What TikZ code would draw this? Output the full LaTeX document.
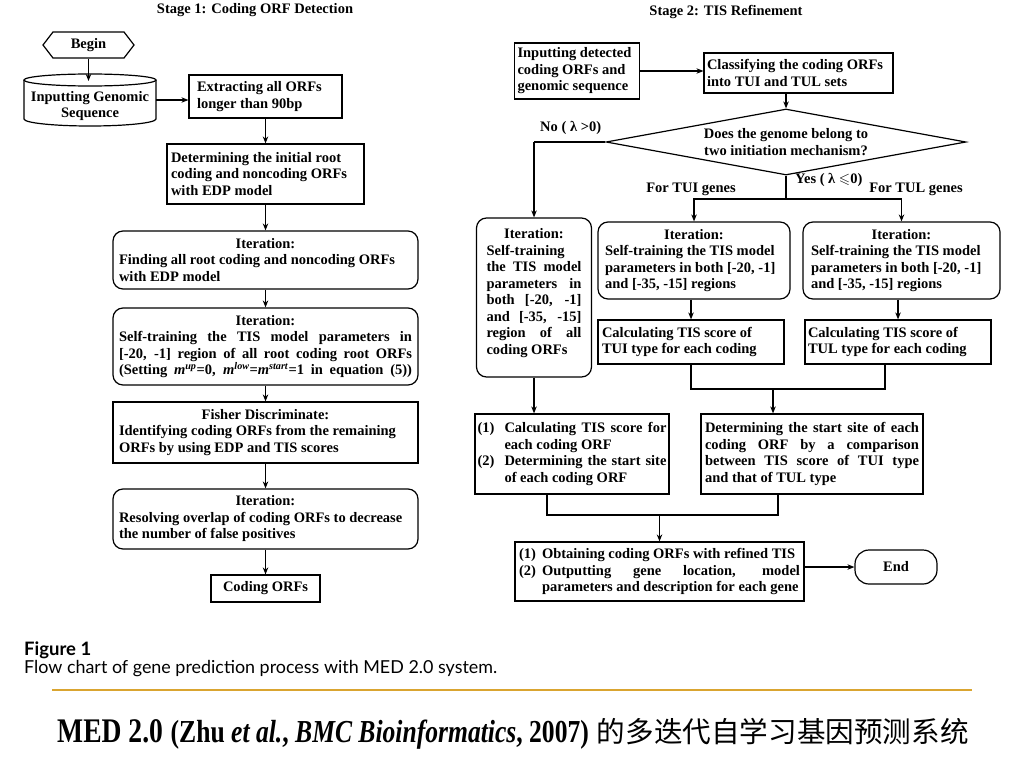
\documentclass[tikz,border=0pt]{standalone}
\usepackage{fontspec}
\usepackage{amssymb}
\usepackage{graphicx}
\setmainfont{Liberation Serif}
\newfontfamily\capfont{Lato}
\newfontfamily\cjkfont{Noto Sans CJK SC}
\usetikzlibrary{arrows.meta,shapes.geometric,shapes.symbols}
\definecolor{rulegold}{RGB}{218,165,48}
\newcommand\jl[1]{\makebox[\linewidth][s]{\spaceskip=0pt\xspaceskip=0pt\relax #1}}
\newcommand\cl[1]{\makebox[\linewidth][c]{#1}}
\newcommand\hang[2]{\makebox[#1][l]{#2}}
\newcommand\jli[2]{\makebox[\dimexpr\linewidth-#1\relax][s]{\spaceskip=0pt\xspaceskip=0pt\relax #2}}
\begin{document}
\begin{tikzpicture}[x=1pt,y=-1pt,
  font=\fontsize{14.5}{16.5}\selectfont\bfseries,
  every node/.append style={execute at begin node={\spaceskip=0pt\xspaceskip=0pt\relax}},
  bx/.style={draw, line width=1.2pt, inner sep=0pt, align=left},
  rbx/.style={bx, rounded corners=10pt},
  ln/.style={line width=1.2pt},
  ar/.style={line width=1.2pt, -{Stealth[length=7pt,width=5.5pt]}},
  lbl/.style={inner sep=0pt}
]
\useasboundingbox (0,0) rectangle (1024,768);

% ---------- Stage 1 ----------
\node (t1) at (255,10) {Stage 1: Coding ORF Detection};
\node[draw, line width=1.2pt, signal, signal to=west and east, signal pointer angle=105,
      minimum width=91pt, minimum height=26pt, inner sep=0pt] (begin) at (88.5,45) {Begin};
\node[lbl, align=center, minimum width=132pt, minimum height=50pt] (cyl) at (90,106) {Inputting Genomic\\Sequence};
\draw[ln] (24,80) -- (24,119) arc[start angle=180,end angle=360,x radius=66pt,y radius=7pt] -- (156,80);
\draw[ln] (90,80) ellipse[x radius=66pt, y radius=6pt];
\coordinate (cyltop) at (90,81);
\node[bx, minimum width=153pt, minimum height=43pt, text width=137pt] (extract) at (265.5,96.5)
  {Extracting all ORFs\\longer than 90bp};
\node[bx, minimum width=197pt, minimum height=60pt, text width=189pt] (determ) at (265.5,174)
  {Determining the initial root\\coding and noncoding ORFs\\with EDP model};
\node[rbx, minimum width=305pt, minimum height=58pt, text width=293pt] (it1) at (265.5,260)
  {\cl{Iteration:}\\Finding all root coding and noncoding ORFs\\with EDP model};
\node[rbx, minimum width=305pt, minimum height=77pt, text width=293pt] (it2) at (265.5,346.5)
  {\cl{Iteration:}\\\jl{Self-training the TIS model parameters in}\\\jl{[-20, -1] region of all root coding root ORFs}\\\jl{(Setting \textit{m}\textsuperscript{\textit{up}}=0, \textit{m}\textsuperscript{\textit{low}}=\textit{m}\textsuperscript{\textit{start}}=1 in equation (5))}};
\node[bx, minimum width=305pt, minimum height=61pt, text width=293pt] (fisher) at (265.5,432.5)
  {\cl{Fisher Discriminate:}\\Identifying coding ORFs from the remaining\\ORFs by using EDP and TIS scores};
\node[rbx, minimum width=305pt, minimum height=60pt, text width=293pt] (it3) at (265.5,519)
  {\cl{Iteration:}\\Resolving overlap of coding ORFs to decrease\\the number of false positives};
\node[bx, minimum width=109pt, minimum height=27pt, align=center] (coding) at (265.5,588.5) {Coding ORFs};

\draw[ar] (begin.south) -- (begin.south |- cyltop);
\draw[ar] ([yshift=6pt]cyl.east) -- ([yshift=6pt]cyl.east -| extract.west);
\draw[ar] (extract) -- (determ);
\draw[ar] (determ) -- (it1);
\draw[ar] (it1) -- (it2);
\draw[ar] (it2) -- (fisher);
\draw[ar] (fisher) -- (it3);
\draw[ar] (it3) -- (coding);

% ---------- Stage 2 ----------
\node (t2) at (726,12) {Stage 2: TIS Refinement};
\node[bx, minimum width=125pt, minimum height=56pt, text width=119pt] (inp) at (577,71)
  {Inputting detected\\coding ORFs and\\genomic sequence};
\node[bx, minimum width=189pt, minimum height=40pt, text width=183pt] (cls) at (798.5,73)
  {Classifying the coding ORFs\\into TUI and TUL sets};
\node[draw, line width=1.2pt, diamond, minimum width=360pt, minimum height=66pt, inner sep=0pt] (dia) at (786,142) {};
\node[align=center] (diatxt) at (786,142) {Does the genome belong to\\two initiation mechanism?};
\node[lbl, anchor=west] (nolbl) at (540,128) {No ( λ >0)};
\node[lbl, anchor=west] (yeslbl) at (795,180) {Yes ( λ $\leqslant$0)};
\node[lbl] (tuilbl) at (691,189) {For TUI genes};
\node[lbl] (tullbl) at (916,189) {For TUL genes};
\coordinate (nocorner) at (534,142);
\coordinate (ybr) at (786,199);

\node[rbx, minimum width=115pt, minimum height=159pt, text width=95pt] (ltall) at (534,297.5)
  {\cl{Iteration:}\\Self-training\\\jl{the TIS model}\\\jl{parameters in}\\\jl{both [-20, -1]}\\\jl{and [-35, -15]}\\\jl{region of all}\\coding ORFs\\[-4pt]\mbox{}};
\node[rbx, minimum width=192pt, minimum height=77pt, text width=178pt] (it4) at (694,260.5)
  {\cl{Iteration:}\\Self-training the TIS model\\parameters in both [-20, -1]\\and [-35, -15] regions};
\node[rbx, minimum width=197pt, minimum height=77pt, text width=181pt] (it5) at (901.5,260.5)
  {\cl{Iteration:}\\Self-training the TIS model\\parameters in both [-20, -1]\\and [-35, -15] regions};
\node[bx, minimum width=186pt, minimum height=44pt, text width=178pt] (c1) at (691,342)
  {Calculating TIS score of\\TUI type for each coding};
\node[bx, minimum width=186pt, minimum height=44pt, text width=180pt] (c2) at (898,342)
  {Calculating TIS score of\\TUL type for each coding};
\node[bx, minimum width=194pt, minimum height=80pt, text width=189pt] (box12) at (572,454)
  {\hang{27pt}{(1)}\jli{27pt}{Calculating TIS score for}\\\hspace*{27pt}each coding ORF\\\hang{27pt}{(2)}\jli{27pt}{Determining the start site}\\\hspace*{27pt}of each coding ORF};
\node[bx, minimum width=222pt, minimum height=80pt, text width=214pt] (det2) at (812,454)
  {\jl{Determining the start site of each}\\\jl{coding ORF by a comparison}\\\jl{between TIS score of TUI type}\\and that of TUL type};
\node[bx, minimum width=289pt, minimum height=59pt, text width=281pt] (final) at (659.5,571.5)
  {\hang{23pt}{(1)}Obtaining coding ORFs with refined TIS\\\hang{23pt}{(2)}\jli{23pt}{Outputting gene location, model}\\\hspace*{23pt}parameters and description for each gene};
\node[bx, rounded corners=14pt, minimum width=82pt, minimum height=34pt, align=center] (endn) at (896,567) {End};
\coordinate (m1) at (773,389);
\coordinate (m2) at (659.5,515);

\draw[ar] (inp.east) -- (inp.east -| cls.west);
\draw[ar] (cls.south -| dia.north) -- (dia.north);
\draw[ln] (dia.west) -- (nocorner);
\draw[ar] (nocorner) -- (nocorner |- ltall.north);
\draw[ln] (dia.south) -- (ybr);
\draw[ar] (ybr) -| (it4.north);
\draw[ar] (ybr) -| (it5.north);
\draw[ar] (it4.south -| c1.north) -- (c1.north);
\draw[ar] (it5.south -| c2.north) -- (c2.north);
\draw[ln] (c1.south) |- (m1) -| ([xshift=-13pt]c2.south);
\draw[ar] (m1) -- (m1 |- det2.north);
\draw[ar] (ltall.south) -- (ltall.south |- box12.north);
\draw[ln] ([xshift=-25pt]box12.south) |- (m2) -| ([xshift=-34pt]det2.south);
\draw[ar] (m2) -- (final.north);
\draw[ar] (endn.west -| final.east) -- (endn.west);

% ---------- Caption ----------
\node[lbl, anchor=base west, font=\capfont\fontsize{18.5}{18}\selectfont\bfseries] (figl) at (24,655) {Figure 1};
\node[lbl, anchor=base west, font=\capfont\fontsize{17.9}{18}\selectfont] (figc) at (24,673)
  {Flow chart of gene prediction process with MED 2.0 system.};
\draw[line width=2.5pt, rulegold] (52,690) -- (972,690);
\node[lbl, anchor=base west] (bottomtitle) at (57,742)
  {\scalebox{0.8}[1]{\fontsize{34.5}{34}\selectfont MED 2.0\hspace{0.28em}\fontsize{32}{32}\selectfont (Zhu \textit{et al.}, \textit{BMC Bioinformatics}, 2007)}\hspace{8pt}{\cjkfont\mdseries\fontsize{28.6}{28}\selectfont 的多迭代自学习基因预测系统}};
\end{tikzpicture}
\end{document}
